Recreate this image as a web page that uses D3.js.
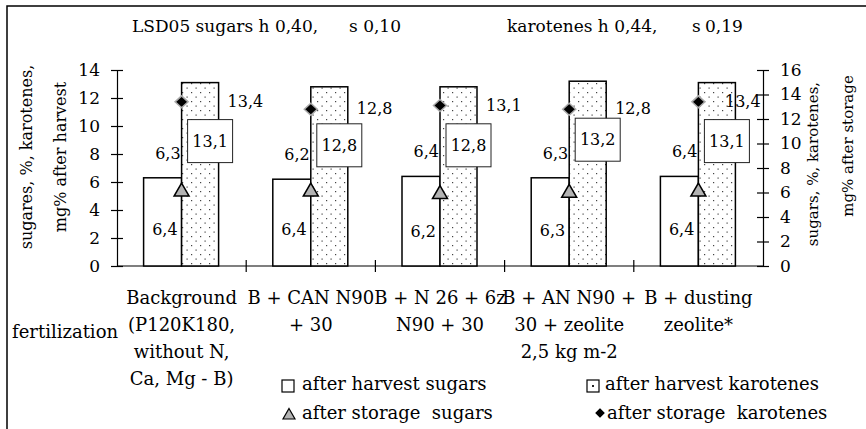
<!DOCTYPE html>
<html>
<head>
<meta charset="utf-8">
<script src="https://cdn.jsdelivr.net/npm/d3@7"></script>
<style>
  body { margin: 0; background: #fff; }
  svg { display: block; }
  text { font-family: "DejaVu Serif", serif; fill: #000; }
</style>
</head>
<body>
<svg id="chart" width="866" height="429"></svg>
<script>
// values
const categories = ['bg', 'can', 'n26', 'an', 'dust'];
const categoryLines = [
  ['Background', '(P120K180,', 'without N,', 'Ca, Mg - B)'],
  ['B + CAN N90', '+ 30'],
  ['B + N 26 + 6z', 'N90 + 30'],
  ['B + AN N90 +', '30 + zeolite', '2,5 kg m-2'],
  ['B + dusting', 'zeolite*']
];
const harvestSugars = [6.3, 6.2, 6.4, 6.3, 6.4];
const harvestKarotenes = [13.1, 12.8, 12.8, 13.2, 13.1];
const storageSugars = [6.4, 6.4, 6.2, 6.3, 6.4];
const storageKarotenes = [13.4, 12.8, 13.1, 12.8, 13.4];
const leftTicks = [0, 2, 4, 6, 8, 10, 12, 14];
const rightTicks = [0, 2, 4, 6, 8, 10, 12, 14, 16];
const fmt = v => v.toFixed(1).replace('.', ',');

const svg = d3.select('#chart');
const plot = { left: 117, right: 763, top: 70, bottom: 266 };
const barW = 38;

const x = d3.scaleBand().domain(categories).range([plot.left, plot.right]);
const yL = d3.scaleLinear().domain([0, 14]).range([plot.bottom, plot.top]);
const yR = d3.scaleLinear().domain([0, 16]).range([plot.bottom, plot.top]);
const cx = c => x(c) + x.bandwidth() / 2;

// dotted fill for the karotenes bars
const defs = svg.append('defs');
const pat = defs.append('pattern')
  .attr('id', 'dots')
  .attr('patternUnits', 'userSpaceOnUse')
  .attr('width', 9).attr('height', 9);
pat.append('rect').attr('width', 9).attr('height', 9).attr('fill', '#fff');
pat.append('rect').attr('x', 2).attr('y', 2).attr('width', 1.2).attr('height', 1.2).attr('fill', '#444');
pat.append('rect').attr('x', 6.5).attr('y', 6.5).attr('width', 1.2).attr('height', 1.2).attr('fill', '#444');

// frame
svg.append('rect')
  .attr('x', 7).attr('y', 6)
  .attr('width', 900).attr('height', 500)
  .attr('fill', 'none').attr('stroke', '#000').attr('stroke-width', 1.5);

// LSD line at the top
const header = svg.append('g').attr('font-size', '17px');
header.append('text').attr('x', 132).attr('y', 32).text('LSD05 sugars h 0,40,');
header.append('text').attr('x', 349).attr('y', 32).text('s 0,10');
header.append('text').attr('x', 507).attr('y', 32).text('karotenes h 0,44,');
header.append('text').attr('x', 692).attr('y', 32).text('s');
header.append('text').attr('x', 705).attr('y', 32).text('0,19');

// axes
const leftAxis = svg.append('g')
  .attr('transform', `translate(${plot.left},0)`)
  .call(d3.axisLeft(yL).tickValues(leftTicks).tickSizeOuter(0).tickSizeInner(6).tickPadding(11));
leftAxis.selectAll('.tick line').attr('x1', -6).attr('x2', 6);

const rightAxis = svg.append('g')
  .attr('transform', `translate(${plot.right},0)`)
  .call(d3.axisRight(yR).tickValues(rightTicks).tickSizeOuter(0).tickSizeInner(6).tickPadding(11));
rightAxis.selectAll('.tick line').attr('x1', -6).attr('x2', 6);

[leftAxis, rightAxis].forEach(a => {
  a.selectAll('text').attr('font-size', '17px').attr('font-family', '"DejaVu Serif", serif');
  a.selectAll('path, line').attr('stroke', '#000').attr('stroke-width', 1.2);
});

svg.append('line')
  .attr('x1', plot.left).attr('x2', plot.right)
  .attr('y1', plot.bottom).attr('y2', plot.bottom)
  .attr('stroke', '#000').attr('stroke-width', 1.2);
svg.selectAll('line.xtick')
  .data(categories.slice(1))
  .enter().append('line')
  .attr('class', 'xtick')
  .attr('x1', d => x(d)).attr('x2', d => x(d))
  .attr('y1', plot.bottom - 6).attr('y2', plot.bottom + 6)
  .attr('stroke', '#000').attr('stroke-width', 1.2);

// axis titles
svg.append('text')
  .attr('transform', 'translate(32,157) rotate(-90)')
  .attr('text-anchor', 'middle').attr('font-size', '16px')
  .text('sugares, %, karotenes,');
svg.append('text')
  .attr('transform', 'translate(66,157) rotate(-90)')
  .attr('text-anchor', 'middle').attr('font-size', '16px')
  .text('mg% after harvest');
svg.append('text')
  .attr('transform', 'translate(818,164) rotate(-90)')
  .attr('text-anchor', 'middle').attr('font-size', '15px')
  .text('sugars, %, karotenes,');
svg.append('text')
  .attr('transform', 'translate(853,146) rotate(-90)')
  .attr('text-anchor', 'middle').attr('font-size', '15px')
  .text('mg% after storage');

// bars
const g = svg.append('g');
g.selectAll('rect.hs')
  .data(categories)
  .enter().append('rect')
  .attr('class', 'hs')
  .attr('x', d => cx(d) - barW)
  .attr('y', (d, i) => yL(harvestSugars[i]))
  .attr('width', barW)
  .attr('height', (d, i) => yL(0) - yL(harvestSugars[i]))
  .attr('fill', '#fff').attr('stroke', '#000').attr('stroke-width', 1.5);

g.selectAll('rect.hk')
  .data(categories)
  .enter().append('rect')
  .attr('class', 'hk')
  .attr('x', d => cx(d))
  .attr('y', (d, i) => yL(harvestKarotenes[i]))
  .attr('width', barW - 1)
  .attr('height', (d, i) => yL(0) - yL(harvestKarotenes[i]))
  .attr('fill', 'url(#dots)').attr('stroke', '#000').attr('stroke-width', 1.5);

// boxed labels for the karotenes bars
const boxes = g.selectAll('g.box')
  .data(categories)
  .enter().append('g')
  .attr('class', 'box')
  .attr('transform', (d, i) => `translate(${cx(d) + 6},${yL(harvestKarotenes[i]) + 37})`);
boxes.append('rect')
  .attr('width', 45).attr('height', 43)
  .attr('fill', '#fff').attr('stroke', '#222').attr('stroke-width', 1);
boxes.append('text')
  .attr('x', 22.5).attr('y', 27)
  .attr('text-anchor', 'middle').attr('font-size', '16px')
  .text((d, i) => fmt(harvestKarotenes[i]));

// markers
const triPath = 'M0,-6.5L7.5,6.5L-7.5,6.5Z';
const diaPath = 'M0,-6L6.5,0L0,6L-6.5,0Z';

g.selectAll('path.ss')
  .data(categories)
  .enter().append('path')
  .attr('class', 'ss')
  .attr('d', triPath)
  .attr('transform', (d, i) => `translate(${cx(d)},${yR(storageSugars[i]) + 2})`)
  .attr('fill', '#b3b3b3').attr('stroke', '#000').attr('stroke-width', 1.5);

g.selectAll('path.sk')
  .data(categories)
  .enter().append('path')
  .attr('class', 'sk')
  .attr('d', diaPath)
  .attr('transform', (d, i) => `translate(${cx(d)},${yR(storageKarotenes[i])})`)
  .attr('fill', '#000').attr('stroke', '#aaa').attr('stroke-width', 1.5);

// value labels
g.selectAll('text.hsl')
  .data(categories)
  .enter().append('text')
  .attr('class', 'hsl')
  .attr('x', d => cx(d) - 1)
  .attr('y', (d, i) => yL(harvestSugars[i]) - 19)
  .attr('text-anchor', 'end').attr('font-size', '16px')
  .text((d, i) => fmt(harvestSugars[i]));

g.selectAll('text.ssl')
  .data(categories)
  .enter().append('text')
  .attr('class', 'ssl')
  .attr('x', d => cx(d) - 4)
  .attr('y', (d, i) => yR(storageSugars[i]) + 47)
  .attr('text-anchor', 'end').attr('font-size', '16px')
  .text((d, i) => fmt(storageSugars[i]));

g.selectAll('text.skl')
  .data(categories)
  .enter().append('text')
  .attr('class', 'skl')
  .attr('x', d => Math.min(cx(d) + 46, plot.right - 38))
  .attr('y', (d, i) => yR(storageKarotenes[i]) + 5)
  .attr('font-size', '16px')
  .text((d, i) => fmt(storageKarotenes[i]));

// category labels
const cat = svg.append('g').attr('font-size', '18px');
categories.forEach((c, i) => {
  categoryLines[i].forEach((line, j) => {
    cat.append('text')
      .attr('x', cx(c))
      .attr('y', 304 + j * 27)
      .attr('text-anchor', 'middle')
      .text(line);
  });
});
cat.append('text').attr('x', 12).attr('y', 338).text('fertilization');

// legend
const legend = svg.append('g').attr('font-size', '18px');
const legendText = (lx, ly, s) => legend.append('text')
  .attr('x', lx).attr('y', ly)
  .attr('xml:space', 'preserve')
  .style('white-space', 'pre')
  .text(s);

legend.append('rect').attr('x', 282).attr('y', 380).attr('width', 12).attr('height', 12)
  .attr('fill', '#fff').attr('stroke', '#000').attr('stroke-width', 1.2);
legendText(302, 390, 'after harvest sugars');

legend.append('rect').attr('x', 587).attr('y', 380).attr('width', 12).attr('height', 12)
  .attr('fill', '#fff').attr('stroke', '#000').attr('stroke-width', 1.2);
legend.append('rect').attr('x', 592).attr('y', 385).attr('width', 2).attr('height', 2).attr('fill', '#222');
legendText(605, 390, 'after harvest karotenes');

legend.append('path').attr('d', 'M0,-5.5L6,5L-6,5Z')
  .attr('transform', 'translate(289,414)')
  .attr('fill', '#b3b3b3').attr('stroke', '#000').attr('stroke-width', 1.2);
legendText(302, 419, 'after storage  sugars');

legend.append('path').attr('d', 'M0,-5L5,0L0,5L-5,0Z')
  .attr('transform', 'translate(600,413)')
  .attr('fill', '#000').attr('stroke', '#aaa').attr('stroke-width', 1);
legendText(607, 419, 'after storage  karotenes');
</script>
</body>
</html>
